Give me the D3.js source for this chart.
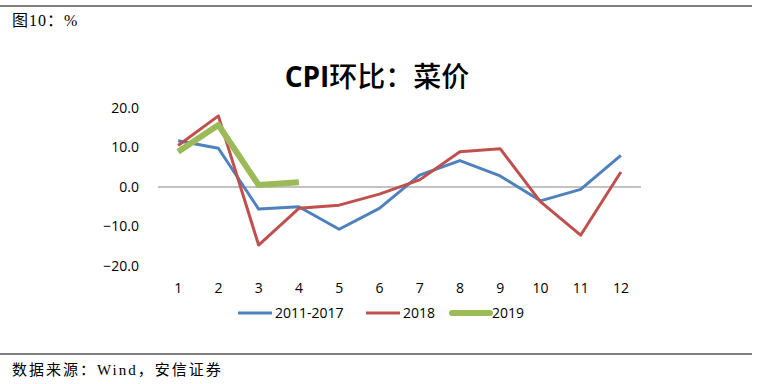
<!DOCTYPE html>
<html>
<head>
<meta charset="utf-8">
<script src="https://cdn.jsdelivr.net/npm/d3@7"></script>
<style>
  body { margin: 0; background: #fff; }
  svg { display: block; }
</style>
</head>
<body>
<div id="chart"></div>
<script>
// months and series
var months = [1, 2, 3, 4, 5, 6, 7, 8, 9, 10, 11, 12];
var avg1117 = [11.7, 9.8, -5.6, -5.0, -10.7, -5.4, 3.0, 6.7, 2.8, -3.5, -0.6, 8.0];
var y2018 = [10.5, 18.0, -14.7, -5.4, -4.6, -1.8, 1.8, 8.9, 9.7, -3.7, -12.2, 3.8];
var y2019 = [8.9, 15.7, 0.5, 1.2];
var yTicks = [-20, -10, 0, 10, 20];

var series = [
    { name: "2011-2017", values: avg1117, color: "#4F81BD", width: 3 },
    { name: "2018", values: y2018, color: "#C0504D", width: 3 },
    { name: "2019", values: y2019, color: "#9BBB59", width: 6 }
];

var W = 758, H = 384;
var svg = d3.select("#chart").append("svg")
    .attr("width", W)
    .attr("height", H);

// frame lines and captions
svg.append("line").attr("x1", 0).attr("x2", 752).attr("y1", 6).attr("y2", 6)
    .attr("stroke", "#000").attr("stroke-width", 1.2);
svg.append("line").attr("x1", 0).attr("x2", 752).attr("y1", 354).attr("y2", 354)
    .attr("stroke", "#000").attr("stroke-width", 1.2);
svg.append("text").attr("x", 12).attr("y", 26)
    .style("font-family", "'Liberation Serif', 'Noto Sans CJK SC', serif")
    .style("font-size", "16px")
    .style("letter-spacing", "1px")
    .text("图10：%");
svg.append("text").attr("x", 12).attr("y", 375)
    .style("font-family", "'Liberation Serif', 'Noto Sans CJK SC', serif")
    .style("font-size", "15px")
    .style("letter-spacing", "2px")
    .text("数据来源：Wind，安信证券");

// title: bold latin, regular CJK
var title = svg.append("text").attr("x", 377).attr("y", 87)
    .attr("text-anchor", "middle")
    .style("font-family", "'Open Sans', 'Noto Sans CJK SC', sans-serif")
    .style("font-size", "28px");
title.append("tspan").style("font-weight", "bold").text("CPI");
title.append("tspan").style("font-weight", "500").text("环比：菜价");

var x = d3.scaleBand().domain(months).range([158, 641]);
var y = d3.scaleLinear().domain([-20, 20]).range([266, 108]);

var font = "'Open Sans', 'Liberation Sans', sans-serif";

// y axis labels (no axis line)
var yAxis = svg.append("g")
    .attr("transform", "translate(142,0)")
    .call(d3.axisLeft(y).tickValues(yTicks).tickSize(0).tickFormat(d3.format(".1f")));
yAxis.select(".domain").remove();
yAxis.selectAll("text")
    .style("font-family", font).style("font-size", "14px").attr("fill", "#000");

// zero line
svg.append("line")
    .attr("x1", x.range()[0]).attr("x2", x.range()[1])
    .attr("y1", y(0)).attr("y2", y(0))
    .attr("stroke", "#868686").attr("stroke-width", 1);

// x labels
var xAxis = svg.append("g")
    .attr("transform", "translate(0,280)")
    .call(d3.axisBottom(x).tickSize(0));
xAxis.select(".domain").remove();
xAxis.selectAll("text")
    .style("font-family", font).style("font-size", "14px").attr("fill", "#000");

var line = d3.line()
    .x(function(d, i) { return x(months[i]) + x.bandwidth() / 2; })
    .y(function(d) { return y(d); });

series.forEach(function(s) {
    svg.append("path")
        .datum(s.values)
        .attr("fill", "none")
        .attr("stroke", s.color)
        .attr("stroke-width", s.width)
        .attr("stroke-linejoin", "round")
        .attr("d", line);
});

// legend
var legendX = [238, 366, 452];
var legend = svg.append("g");
series.forEach(function(s, i) {
    var g = legend.append("g").attr("transform", "translate(" + legendX[i] + ",313)");
    g.append("line").attr("x1", 0).attr("x2", s.width > 3 ? 38 : 34)
        .attr("stroke", s.color).attr("stroke-width", s.width).attr("stroke-linecap", s.width > 3 ? "round" : "butt");
    g.append("text").attr("x", s.width > 3 ? 40 : 37).attr("y", 5)
        .style("font-family", font).style("font-size", "14px")
        .text(s.name);
});
</script>
</body>
</html>
